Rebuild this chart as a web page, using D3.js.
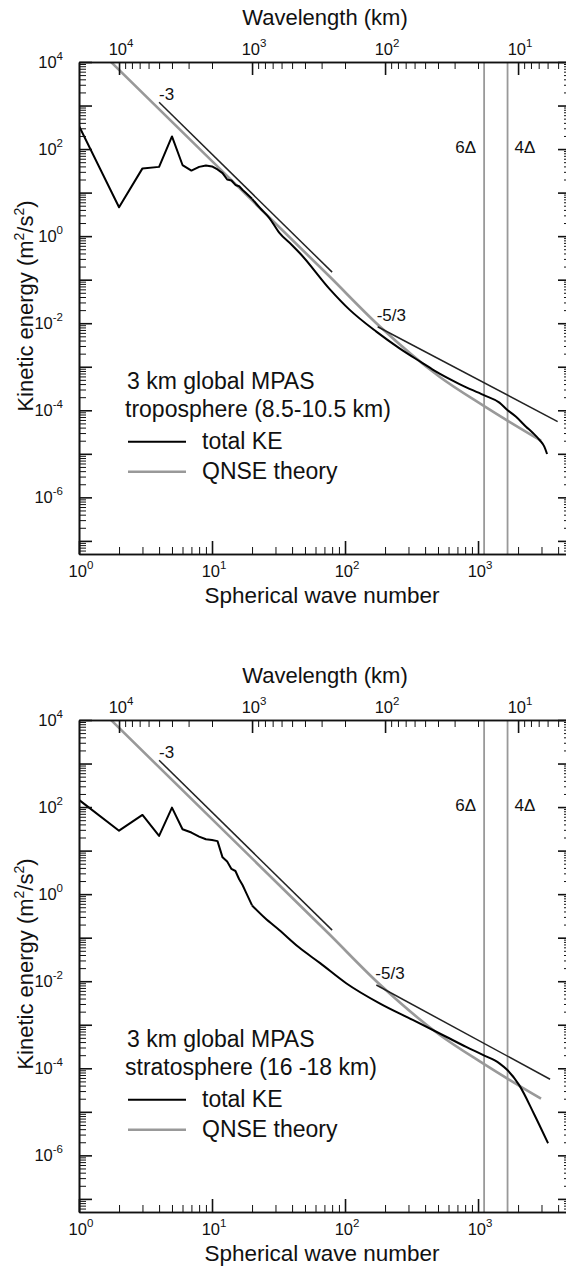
<!DOCTYPE html>
<html>
<head>
<meta charset="utf-8">
<script src="https://cdn.jsdelivr.net/npm/d3@7"></script>
<style>
  html, body { margin: 0; padding: 0; background: #fff; }
  svg { display: block; font-family: "Liberation Sans", Arial, Helvetica, sans-serif; }
</style>
</head>
<body>
<svg id="chart" width="566" height="1270"></svg>
<script>
// Kinetic energy spectra: [spherical wave number, KE (m^2/s^2)]
const troposphereKE = [
  [1, 340], [2, 4.6], [3, 36], [4, 39], [5, 195], [6, 43], [7, 32], [8, 39], [9, 42],
  [10, 40], [11, 34], [12, 28], [13, 20], [14, 19], [15, 15], [16, 14], [17, 11.5],
  [18, 9.8], [20, 7.2], [23, 4.4], [27, 2.6], [32, 1.2], [40, 0.62], [46, 0.40],
  [77, 0.060], [108, 0.0205], [172, 6.4e-3], [257, 2.65e-3], [385, 1.2e-3],
  [484, 7.7e-4], [725, 4.0e-4], [1097, 2.25e-4], [1448, 1.5e-4], [1662, 1.02e-4],
  [1932, 7.1e-5], [2295, 4.2e-5], [2575, 3.06e-5], [2893, 2.1e-5], [3150, 1.46e-5],
  [3304, 9.9e-6]
];

const stratosphereKE = [
  [1, 146], [2, 28.7], [3, 66], [4, 21.7], [5, 97], [6, 31], [7, 26], [8, 21], [9, 18.2],
  [10, 17.5], [11, 16.5], [12, 7.0], [13, 5.6], [14, 3.8], [15, 3.4], [16, 2.2],
  [17, 1.6], [18, 1.1], [20, 0.55], [25, 0.282], [32, 0.15], [45, 0.060],
  [65, 0.026], [102, 9.0e-3], [182, 3.1e-3], [323, 1.29e-3], [576, 5.3e-4],
  [814, 3.1e-4], [1097, 2.0e-4], [1448, 1.3e-4], [1662, 9.1e-5], [2040, 4.1e-5],
  [2620, 9.3e-6], [3360, 1.9e-6]
];

// QNSE theoretical spectrum
const qnseTheory = [
  [1.74, 1e4], [76.6, 0.118], [182, 8.5e-3], [513, 5.9e-4], [1097, 1.28e-4],
  [1663, 5.8e-5], [2976, 2.0e-5]
];

// Reference power-law segments
const slopeMinus3 = [[4, 1190], [80, 0.149]];
const slopeMinus53Tropo = [[176, 8.3e-3], [3970, 5.5e-5]];
const slopeMinus53Strat = [[172, 8.2e-3], [3480, 5.6e-5]];

// Grid-resolution wave numbers (3 km mesh)
const resolutionLimits = [{ label: "6Δ", n: 1111, side: "left" }, { label: "4Δ", n: 1667, side: "right" }];

// Axis labels
const xTickLabels = [1, 10, 100, 1000];
const yTickLabels = [1e4, 1e2, 1, 1e-2, 1e-4, 1e-6];
const wavelengthTickLabels = [1e4, 1e3, 1e2, 1e1];

const panelTitles = [
  ["3 km global MPAS", "troposphere (8.5-10.5 km)"],
  ["3 km global MPAS", "stratosphere (16 -18 km)"]
];

const HALF_CIRCUMFERENCE = 20000; // km, wavelength = HALF_CIRCUMFERENCE / n
const NOISY_RANGE_END = 20;       // low wave numbers drawn as a plain polyline

const svg = d3.select("#chart");
const left = 79, size = 492;
const panelTops = [62, 720];
const grey = "#999999";

const x = d3.scaleLog().domain([1, 5000]).range([left, left + size]);
const xw = d3.scaleLog().domain([HALF_CIRCUMFERENCE / 1, HALF_CIRCUMFERENCE / 5000]).range([left, left + size]);

function minorValues(lo, hi) {
  const out = [];
  for (let p = -9; p <= 5; p++) {
    for (let k = 2; k <= 9; k++) {
      const v = k * Math.pow(10, p);
      if (v >= lo * 0.9999 && v <= hi * 1.0001) out.push(v);
    }
  }
  return out;
}
function majorValues(lo, hi) {
  const out = [];
  for (let p = -9; p <= 5; p++) {
    const v = Math.pow(10, p);
    if (v >= lo * 0.9999 && v <= hi * 1.0001) out.push(v);
  }
  return out;
}

function powerLabel(sel, v, anchor, xx, yy, size, supSize, supDy) {
  const t = sel.append("text")
    .attr("x", xx).attr("y", yy)
    .attr("text-anchor", anchor)
    .attr("font-size", size)
    .attr("fill", "#111");
  t.append("tspan").text("10");
  t.append("tspan").attr("dy", supDy).attr("font-size", supSize).text(String(Math.round(Math.log10(v))));
}

function styleAxis(g, major) {
  g.select(".domain").attr("stroke", "#111").attr("stroke-width", 1.6);
  g.selectAll(".tick line").attr("stroke", "#111").attr("stroke-width", major ? 1.6 : 1);
  g.selectAll(".tick text").remove();
}

panelTops.forEach((top, i) => {
  const bottom = top + size;
  const y = d3.scaleLog().domain([5e-8, 1e4]).range([bottom, top]);
  const g = svg.append("g");
  const ke = i === 0 ? troposphereKE : stratosphereKE;
  const slope53 = i === 0 ? slopeMinus53Tropo : slopeMinus53Strat;

  const clipId = "clip" + i;
  svg.append("clipPath").attr("id", clipId)
    .append("rect").attr("x", left).attr("y", top).attr("width", size).attr("height", size);

  const line = d3.line().x(d => x(d[0])).y(d => y(d[1]));
  const smooth = d3.line().x(d => x(d[0])).y(d => y(d[1])).curve(d3.curveMonotoneX);

  const plot = g.append("g").attr("clip-path", `url(#${clipId})`);

  // resolution limits
  resolutionLimits.forEach(r => {
    plot.append("line")
      .attr("x1", x(r.n)).attr("x2", x(r.n))
      .attr("y1", top).attr("y2", bottom)
      .attr("stroke", grey).attr("stroke-width", 1.8);
  });

  // theory curve
  plot.append("path").datum(qnseTheory)
    .attr("d", smooth).attr("fill", "none")
    .attr("stroke", grey).attr("stroke-width", 2.6);

  // reference slopes
  [slopeMinus3, slope53].forEach(s => {
    plot.append("path").datum(s)
      .attr("d", line).attr("fill", "none")
      .attr("stroke", "#222").attr("stroke-width", 1.5);
  });

  // model spectrum: jagged large scales, smooth inertial range
  const lowPart = ke.filter(d => d[0] <= NOISY_RANGE_END);
  const highPart = ke.filter(d => d[0] >= NOISY_RANGE_END);
  plot.append("path").datum(lowPart)
    .attr("d", line).attr("fill", "none")
    .attr("stroke", "#000").attr("stroke-width", 2)
    .attr("stroke-linejoin", "round");
  plot.append("path").datum(highPart)
    .attr("d", smooth).attr("fill", "none")
    .attr("stroke", "#000").attr("stroke-width", 2)
    .attr("stroke-linejoin", "round");

  // axes: left / right
  const yMaj = majorValues(5e-8, 1e4), yMin = minorValues(5e-8, 1e4);
  styleAxis(g.append("g").attr("transform", `translate(${left},0)`)
    .call(d3.axisLeft(y).tickValues(yMin).tickSize(-7).tickSizeOuter(0)), false);
  styleAxis(g.append("g").attr("transform", `translate(${left},0)`)
    .call(d3.axisLeft(y).tickValues(yMaj).tickSize(-13).tickSizeOuter(0)), true);
  styleAxis(g.append("g").attr("transform", `translate(${left + size},0)`)
    .call(d3.axisRight(y).tickValues(yMin).tickSize(-7).tickSizeOuter(0)), false);
  styleAxis(g.append("g").attr("transform", `translate(${left + size},0)`)
    .call(d3.axisRight(y).tickValues(yMaj).tickSize(-13).tickSizeOuter(0)), true);

  // bottom: wave number
  styleAxis(g.append("g").attr("transform", `translate(0,${bottom})`)
    .call(d3.axisBottom(x).tickValues(minorValues(1, 5000)).tickSize(-7).tickSizeOuter(0)), false);
  styleAxis(g.append("g").attr("transform", `translate(0,${bottom})`)
    .call(d3.axisBottom(x).tickValues(majorValues(1, 5000)).tickSize(-13).tickSizeOuter(0)), true);

  // top: wavelength
  styleAxis(g.append("g").attr("transform", `translate(0,${top})`)
    .call(d3.axisTop(xw).tickValues(minorValues(4, 20000)).tickSize(-7).tickSizeOuter(0)), false);
  styleAxis(g.append("g").attr("transform", `translate(0,${top})`)
    .call(d3.axisTop(xw).tickValues(majorValues(4, 20000)).tickSize(-13).tickSizeOuter(0)), true);

  // tick labels
  yTickLabels.forEach(v => powerLabel(g, v, "end", left - 16, y(v) + 5.5, 16.5, 11.5, -8));
  xTickLabels.forEach(v => powerLabel(g, v, "middle", x(v) + 2, bottom + 23, 16.5, 11.5, -8));
  wavelengthTickLabels.forEach(v => powerLabel(g, v, "middle", xw(v) + 2, top - 7, 16.5, 11.5, -8));

  // axis titles
  g.append("text").attr("x", left + size / 2).attr("y", top - 37)
    .attr("text-anchor", "middle").attr("font-size", 22).attr("fill", "#111")
    .text("Wavelength (km)");
  g.append("text").attr("x", 322).attr("y", bottom + 49)
    .attr("text-anchor", "middle").attr("font-size", 22.5).attr("fill", "#111")
    .text("Spherical wave number");
  const yt = g.append("text")
    .attr("transform", `translate(33,${top + 244}) rotate(-90)`)
    .attr("text-anchor", "middle").attr("font-size", 22).attr("fill", "#111");
  yt.append("tspan").text("Kinetic energy (m");
  yt.append("tspan").attr("dy", -9).attr("font-size", 14).text("2");
  yt.append("tspan").attr("dy", 9).text("/s");
  yt.append("tspan").attr("dy", -9).attr("font-size", 14).text("2");
  yt.append("tspan").attr("dy", 9).text(")");

  // slope annotations
  g.append("text").attr("x", x(slopeMinus3[0][0])).attr("y", top + 38)
    .attr("font-size", 17).attr("fill", "#111").text("-3");
  g.append("text").attr("x", x(slope53[0][0]) - 1).attr("y", top + 258.5)
    .attr("font-size", 17).attr("fill", "#111").text("-5/3");

  // resolution labels
  resolutionLimits.forEach(r => {
    g.append("text")
      .attr("x", r.side === "left" ? x(r.n) - 8 : x(r.n) + 7)
      .attr("y", top + 91)
      .attr("text-anchor", r.side === "left" ? "end" : "start")
      .attr("font-size", 17).attr("fill", "#111").text(r.label);
  });

  // legend
  g.append("text").attr("x", 127).attr("y", top + 326.5)
    .attr("font-size", 23).attr("fill", "#111").text(panelTitles[i][0]);
  g.append("text").attr("x", 125).attr("y", top + 355)
    .attr("font-size", 23).attr("fill", "#111").text(panelTitles[i][1]);
  const legendItems = [
    { label: "total KE", color: "#000", width: 2 },
    { label: "QNSE theory", color: grey, width: 2.6 }
  ];
  legendItems.forEach((it, k) => {
    const ly = top + 379.7 + k * 30;
    g.append("line").attr("x1", 128).attr("x2", 186).attr("y1", ly).attr("y2", ly)
      .attr("stroke", it.color).attr("stroke-width", it.width);
    g.append("text").attr("x", 202).attr("y", ly + 7)
      .attr("font-size", 23).attr("fill", "#111").text(it.label);
  });
});
</script>
</body>
</html>
